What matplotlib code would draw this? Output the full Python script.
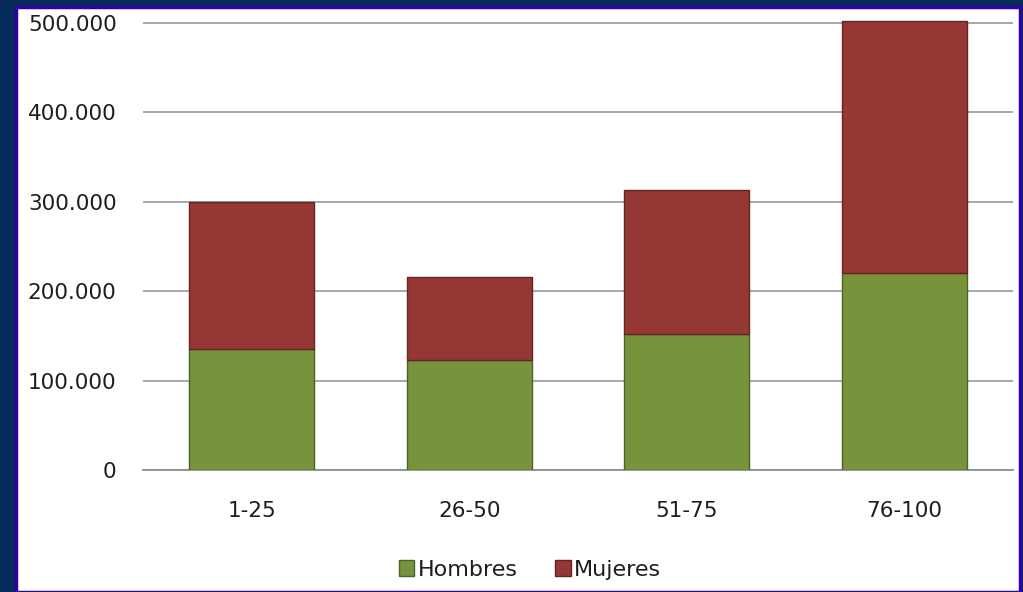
import matplotlib

matplotlib.use("Agg")
import matplotlib.pyplot as plt  # noqa: E402
import numpy as np  # noqa: E402
from matplotlib.patches import Rectangle  # noqa: E402
from matplotlib.ticker import FuncFormatter  # noqa: E402

# --- Data ---------------------------------------------------------------
CATEGORIES = ["1-25", "26-50", "51-75", "76-100"]
HOMBRES = [135000, 123000, 152000, 220000]
MUJERES = [165000, 93000, 161000, 282000]
Y_TICKS = [0, 100000, 200000, 300000, 400000, 500000]

GREEN = "#77933c"
RED = "#953735"

W, H = 1023, 592


def fmt_thousands(v, _pos):
    if v == 0:
        return "0"
    return f"{int(v):,}".replace(",", ".")


def main() -> None:
    plt.rcParams["font.family"] = ["DejaVu Sans"]

    fig = plt.figure(figsize=(W / 100, H / 100), dpi=100, facecolor="#062a5a")

    # white slide panel with purple border (behind the axes)
    panel = Rectangle((16 / W, 0), (1020 - 16) / W, (H - 7) / H,
                      transform=fig.transFigure, facecolor="white",
                      edgecolor="#3300a0", linewidth=2.5, zorder=-10)
    fig.add_artist(panel)

    left, right = 143 / W, 1013 / W
    y0 = 470  # pixel row of value 0
    px_per_unit = (470 - 23) / 500000
    ytop = 503000
    bottom = (H - y0) / H
    height = ytop * px_per_unit / H
    ax = fig.add_axes([left, bottom, right - left, height])
    ax.set_facecolor("none")

    x = np.arange(len(CATEGORIES))
    ax.bar(x, HOMBRES, width=0.575, color=GREEN, edgecolor="#4f6228",
           linewidth=1.0, label="Hombres", zorder=3)
    ax.bar(x, MUJERES, width=0.575, bottom=HOMBRES, color=RED,
           edgecolor="#632523", linewidth=1.0, label="Mujeres", zorder=3)

    ax.set_xlim(-0.5, len(CATEGORIES) - 0.5)
    ax.set_ylim(0, ytop)
    ax.set_yticks(Y_TICKS)
    ax.yaxis.set_major_formatter(FuncFormatter(fmt_thousands))
    ax.set_xticks(x)
    ax.set_xticklabels(CATEGORIES)

    ax.grid(axis="y", color="#a0a0a0", linewidth=1.3, zorder=0)
    ax.set_axisbelow(True)
    for side in ("top", "right", "left"):
        ax.spines[side].set_visible(False)
    ax.spines["bottom"].set_color("#909090")
    ax.spines["bottom"].set_linewidth(1.3)

    ax.tick_params(axis="both", length=0, labelsize=15.5, colors="#1e1e1e")
    ax.tick_params(axis="y", pad=19)
    ax.tick_params(axis="x", pad=22)

    fig.legend(loc="center", bbox_to_anchor=(530 / W, 1 - 570 / H), ncol=2,
               frameon=False, fontsize=16, handlelength=0.7, handleheight=0.7,
               handletextpad=0.15, columnspacing=1.7, labelcolor="#1e1e1e")

    fig.savefig("out.png", dpi=100, facecolor=fig.get_facecolor())


if __name__ == "__main__":
    main()
